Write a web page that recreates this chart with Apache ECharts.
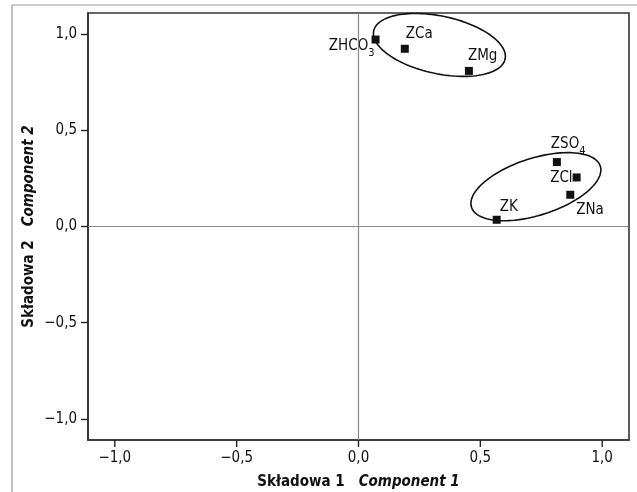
<!DOCTYPE html>
<html>
<head>
<meta charset="utf-8">
<style>html,body{margin:0;padding:0;background:#fff;}#c{width:637px;height:492px;}</style>
<script src="https://cdn.jsdelivr.net/npm/echarts@6/dist/echarts.min.js"></script>
</head>
<body>
<div id="c"></div>
<script>
// ---- data ----
const names = ['ZHCO3', 'ZCa', 'ZMg', 'ZSO4', 'ZCl', 'ZNa', 'ZK'];
const component1 = [0.070, 0.190, 0.453, 0.814, 0.895, 0.869, 0.567];
const component2 = [0.972, 0.924, 0.809, 0.335, 0.255, 0.165, 0.035];
const tickValues = [-1.0, -0.5, 0.0, 0.5, 1.0];
const groupCenterX = [0.332, 0.728];
const groupCenterY = [0.944, 0.207];

// ---- styles ----
const FONT = "'DejaVu Sans Condensed', 'Liberation Sans Narrow', sans-serif";
const FS = 15;
const TXT = '#111';
const AXIS_MIN = -1.11, AXIS_MAX = 1.11;
const labelPlacement = {
  ZHCO3: { align: 'right', offset: [-1, -1] },
  ZCa:   { align: 'left',  offset: [1, -22] },
  ZMg:   { align: 'left',  offset: [-1, -22.5] },
  ZSO4:  { align: 'left',  offset: [-6, -25] },
  ZCl:   { align: 'right', offset: [-4, -7] },
  ZNa:   { align: 'left',  offset: [6, 7.5] },
  ZK:    { align: 'left',  offset: [3, -20] }
};
const ellipseShape = [
  { a: 67.2, b: 28.8, tilt: 12.1 },
  { a: 67.6, b: 28.5, tilt: -17.7 }
];

function fmt(v) {
  return (v < 0 ? '\u2212' : '') + Math.abs(v).toFixed(1).replace('.', ',');
}
function richName(n) {
  const m = n.match(/^(.*?)(\d+)$/);
  return m ? '{n|' + m[1] + '}{s|' + m[2] + '}' : '{n|' + n + '}';
}

const pointData = names.map((n, i) => ({
  name: n,
  value: [component1[i], component2[i]],
  label: {
    show: true,
    position: 'inside',
    verticalAlign: 'top',
    align: labelPlacement[n].align,
    offset: labelPlacement[n].offset
  }
}));

const titleRich = {
  a: { fontFamily: FONT, fontSize: FS, fontWeight: 'bold', color: TXT },
  b: { fontFamily: FONT, fontSize: FS, fontWeight: 'bold', fontStyle: 'italic', color: TXT, padding: [0, 0, 0, 14] }
};

const chart = echarts.init(document.getElementById('c'), null, { renderer: 'canvas' });
chart.setOption({
  animation: false,
  backgroundColor: '#fff',
  textStyle: { fontFamily: FONT },
  graphic: [{
    type: 'rect',
    shape: { x: 12, y: 5, width: 800, height: 800 },
    style: { fill: 'none', stroke: '#9a9a9a', lineWidth: 1.2 },
    silent: true, z: -10
  }],
  grid: {
    left: 88, right: 8, top: 13, bottom: 52,
    containLabel: false,
    outerBoundsMode: 'none',
    show: true, borderColor: '#333', borderWidth: 1.6, backgroundColor: 'transparent'
  },
  xAxis: {
    type: 'value', min: AXIS_MIN, max: AXIS_MAX, position: 'bottom',
    name: '{a|Składowa 1}{b|Component 1}',
    nameLocation: 'middle', nameGap: 35, nameMoveOverlap: false,
    nameTextStyle: { rich: titleRich },
    axisLine: { show: true, onZero: false, lineStyle: { color: '#333', width: 1.6 } },
    splitLine: { show: false },
    axisTick: { show: false },
    axisLabel: { show: false }
  },
  yAxis: {
    type: 'value', min: AXIS_MIN, max: AXIS_MAX, position: 'left',
    name: '{a|Składowa 2}{b|Component 2}',
    nameLocation: 'middle', nameGap: 51, nameMoveOverlap: false,
    nameTextStyle: { rich: titleRich },
    axisLine: { show: true, onZero: false, lineStyle: { color: '#333', width: 1.6 } },
    splitLine: { show: false },
    axisTick: { show: true, inside: false, length: 7, customValues: tickValues, lineStyle: { color: '#222', width: 1.4 } },
    axisLabel: { customValues: tickValues, formatter: fmt, margin: 11, fontSize: FS, color: TXT, fontFamily: FONT }
  },
  series: [
    {
      type: 'custom',
      coordinateSystem: 'cartesian2d',
      data: groupCenterX.map((x, i) => [x, groupCenterY[i]]),
      z: 2,
      silent: true,
      renderItem: function (params, api) {
        const c = api.coord([api.value(0), api.value(1)]);
        const e = ellipseShape[params.dataIndex];
        const th = e.tilt * Math.PI / 180;
        const pts = [];
        for (let k = 0; k < 120; k++) {
          const t = k / 120 * Math.PI * 2;
          const ex = e.a * Math.cos(t), ey = e.b * Math.sin(t);
          pts.push([c[0] + ex * Math.cos(th) - ey * Math.sin(th), c[1] + ex * Math.sin(th) + ey * Math.cos(th)]);
        }
        return { type: 'polygon', shape: { points: pts }, style: { fill: 'none', stroke: '#111', lineWidth: 1.6 } };
      }
    },
    {
      // x-axis ticks and tick labels at the labelled values (anchored to the grid's bottom edge)
      type: 'custom',
      coordinateSystem: 'cartesian2d',
      data: tickValues.map(v => [v, 0]),
      z: 5,
      silent: true,
      clip: false,
      renderItem: function (params, api) {
        const v = api.value(0);
        const x = api.coord([v, 0])[0];
        const bottom = params.coordSys.y + params.coordSys.height;
        return {
          type: 'group',
          children: [
            { type: 'line', shape: { x1: x, y1: bottom, x2: x, y2: bottom + 7 }, style: { stroke: '#222', lineWidth: 1.4 } },
            { type: 'text', style: { text: fmt(v), x: x, y: bottom + 11, align: 'center', verticalAlign: 'top', fill: TXT, font: FS + 'px ' + FONT } }
          ]
        };
      }
    },
    {
      type: 'scatter',
      symbol: 'rect',
      symbolSize: 8,
      itemStyle: { color: '#111', opacity: 1 },
      z: 3,
      data: pointData,
      label: {
        color: TXT,
        opacity: 1,
        textBorderWidth: 0,
        formatter: p => richName(p.name),
        rich: {
          n: { fontFamily: FONT, fontSize: FS, lineHeight: 17, verticalAlign: 'top', color: TXT, textBorderWidth: 0 },
          s: { fontFamily: FONT, fontSize: 11, lineHeight: 12, verticalAlign: 'top', padding: [9, 0, 0, 0], color: TXT, textBorderWidth: 0 }
        }
      },
      markLine: {
        silent: true,
        symbol: 'none',
        label: { show: false },
        lineStyle: { color: '#8a8a8a', type: 'solid', width: 1.2, opacity: 1 },
        data: [{ xAxis: 0 }, { yAxis: 0 }]
      }
    }
  ]
});
</script>
</body>
</html>
